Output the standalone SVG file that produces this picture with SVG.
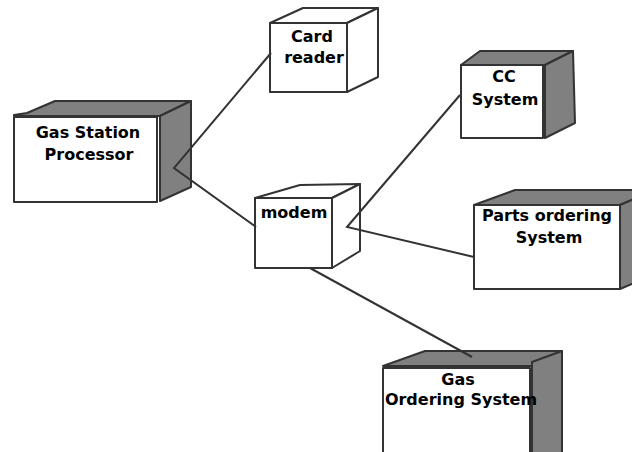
<svg xmlns="http://www.w3.org/2000/svg" width="632" height="452" viewBox="0 0 632 452">
<style>
.face{fill:#ffffff;stroke:#333333;stroke-width:2;stroke-linejoin:round}
.dark{fill:#808080;stroke:#333333;stroke-width:2;stroke-linejoin:round}
.lbl{font-family:"DejaVu Sans","Verdana",sans-serif;font-weight:bold;font-size:16px;fill:#000000;text-anchor:middle}
.conn{stroke:#333333;stroke-width:2;fill:none}
</style>
<rect width="632" height="452" fill="#ffffff"/>
<g id="gas-station-processor">
<polygon class="dark" points="14,115 27,113 55,101 191,101 160,116 14,116"/>
<polygon class="dark" points="160,116 191,101 191,187 160,201"/>
<rect class="face" x="14" y="117" width="143" height="85"/>
<text class="lbl" x="88" y="138">Gas Station</text>
<text class="lbl" x="89" y="160">Processor</text>
</g>
<g id="card-reader">
<polygon class="face" points="270,23 303,8 378,8 347,23"/>
<polygon class="face" points="347,23 378,8 378,77 347,92"/>
<rect class="face" x="270" y="23" width="77" height="69"/>
<text class="lbl" x="312" y="42">Card</text>
<text class="lbl" x="314" y="63">reader</text>
</g>
<g id="modem">
<polygon class="face" points="255,198 300,185 360,184 332,198"/>
<polygon class="face" points="332,198 360,184 360,251 332,268"/>
<rect class="face" x="255" y="198" width="77" height="70"/>
<text class="lbl" x="294" y="218">modem</text>
</g>
<g id="cc-system">
<polygon class="dark" points="461,65 480,51 573,51 545,65"/>
<polygon class="dark" points="545,65 573,51 575,123 545,138"/>
<rect class="face" x="461" y="65" width="82" height="73"/>
<text class="lbl" x="504" y="82">CC</text>
<text class="lbl" x="505" y="105">System</text>
</g>
<g id="parts-ordering-system">
<polygon class="dark" points="474,205 515,190 655,190 620,205"/>
<polygon class="dark" points="620,205 655,190 655,274 620,289"/>
<rect class="face" x="474" y="205" width="146" height="84"/>
<text class="lbl" x="547" y="221">Parts ordering</text>
<text class="lbl" x="549" y="243">System</text>
</g>
<g id="gas-ordering-system">
<polygon class="dark" points="383,366 425,351 562,351 532,366"/>
<polygon class="dark" points="532,362 562,351 562,460 532,460"/>
<rect class="face" x="383" y="368" width="147" height="92"/>
<text class="lbl" x="458" y="385">Gas</text>
<text class="lbl" x="461" y="405">Ordering System</text>
</g>
<g id="connectors">
<polyline class="conn" points="271,53 174,168 256,227"/>
<polyline class="conn" points="460,95 347,227 474,257"/>
<line class="conn" x1="310" y1="268" x2="472" y2="357"/>
</g>
</svg>
